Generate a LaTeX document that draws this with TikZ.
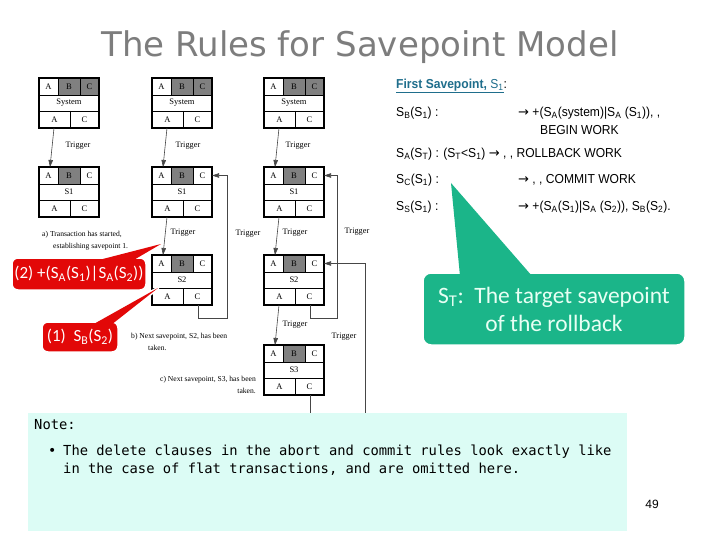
\documentclass[tikz,border=0pt]{standalone}
\usepackage{fontspec}
\setmainfont{Liberation Serif}
\newfontfamily\titlefont{DejaVu Sans}
\newfontfamily\rulefont[FakeStretch=0.93]{Liberation Sans}
\newfontfamily\arrowfont{DejaVu Sans}
\newfontfamily\callfont{Carlito}
\newfontfamily\notefont{DejaVu Sans Mono}
\newfontfamily\numfont{Liberation Sans}
\usetikzlibrary{arrows.meta}
\newcommand\rarr{{\arrowfont →}}

\definecolor{cellgray}{RGB}{128,128,128}
\definecolor{titlegray}{RGB}{125,125,125}
\definecolor{ruleblue}{RGB}{31,110,140}
\definecolor{callred}{RGB}{226,8,8}
\definecolor{callgreen}{RGB}{27,181,137}
\definecolor{greentext}{RGB}{232,255,244}
\definecolor{notebg}{RGB}{220,252,245}
\definecolor{conngray}{RGB}{70,70,70}

\tikzset{
  lbl/.style={font=\fontsize{8.5}{9}\selectfont, inner sep=0pt},
  trig/.style={font=\fontsize{8.3}{9}\selectfont, inner sep=0pt},
  captxt/.style={font=\fontsize{7.6}{9}\selectfont, inner sep=0pt},
  conn/.style={draw=conngray, line width=0.6pt, -{Triangle[length=7pt,width=4.5pt]}},
  rt/.style={font=\rulefont\fontsize{13}{15}\selectfont, inner sep=0pt, anchor=west},
  redbox/.style={fill=callred, draw=white, line width=1.5pt, rounded corners=6pt, inner sep=0pt,
    text=white, font=\callfont\fontsize{17}{20}\selectfont},
  greenbox/.style={fill=callgreen, draw=white, line width=1.5pt, rounded corners=8pt, inner sep=0pt,
    text=greentext, align=center, font=\callfont\fontsize{23.5}{28}\selectfont},
  notetxt/.style={font=\notefont\fontsize{13.8}{17}\selectfont, inner sep=0pt, anchor=west}
}

\newcommand\spbox[5]{%
  \begin{scope}[shift={(#2,#3)}]
    \fill[cellgray] (19,0) rectangle (41,17);
    \fill[#5] (41,0) rectangle (60,17);
    \draw[line width=0.8pt] (0,17)--(60,17) (0,33)--(60,33) (19,0)--(19,17) (41,0)--(41,17) (31,33)--(31,50);
    \node[lbl] (#1-A) at (9.5,8.5) {A};
    \node[lbl] (#1-B) at (30,8.5) {B};
    \node[lbl] (#1-C) at (50.5,8.5) {C};
    \node[lbl] (#1-n) at (30,25) {#4};
    \node[lbl] (#1-a) at (15.5,41.5) {A};
    \node[lbl] (#1-c) at (45.5,41.5) {C};
    \node[draw, line width=1.4pt, minimum width=60pt, minimum height=50pt, inner sep=0pt, outer sep=0pt, anchor=north west] (#1) at (0,0) {};
    \coordinate (#1-out) at (15,50);
    \coordinate (#1-in) at (11,0);
    \coordinate (#1-cb) at (46,50);
    \coordinate (#1-r) at (60,8.5);
  \end{scope}}

\begin{document}
\begin{tikzpicture}[x=1pt,y=-1pt]
\useasboundingbox (0,0) rectangle (720,540);
\fill[white] (0,0) rectangle (720,540);

% title
\node[font=\titlefont\fontsize{34}{40}\selectfont, text=titlegray, inner sep=0pt] (title) at (360,47) {The Rules for Savepoint Model};

% boxes column 1
\spbox{sysa}{39}{78}{System}{cellgray}
\spbox{sa1}{39}{167}{S1}{white}
% column 2
\spbox{sysb}{152}{78}{System}{cellgray}
\spbox{sb1}{152}{167}{S1}{white}
\spbox{sb2}{152}{255}{S2}{white}
% column 3
\spbox{sysc}{264}{78}{System}{cellgray}
\spbox{sc1}{264}{167}{S1}{white}
\spbox{sc2}{264}{255}{S2}{white}
\spbox{sc3}{264}{345}{S3}{white}

% connectors
\draw[conn] (sysa-out) -- (sa1-in);
\draw[conn] (sysb-out) -- (sb1-in);
\draw[conn] (sb1-out) -- (sb2-in);
\draw[conn] (sysc-out) -- (sc1-in);
\draw[conn] (sc1-out) -- (sc2-in);
\draw[conn] (sc2-out) -- (sc3-in);
\coordinate (lp2) at (227,318);
\coordinate (lp3) at (337,318);
\coordinate (lp4) at (365,425);
\draw[conn] (sb2-cb) |- (lp2) |- (sb1-r);
\draw[conn] (sc2-cb) |- (lp3) |- (sc1-r);
\draw[conn] (sc3-cb) |- (lp4) |- (sc2-r);

% trigger labels
\node[trig] (t1) at (78,146) {Trigger};
\node[trig] (t2) at (188,146) {Trigger};
\node[trig] (t3) at (183,233) {Trigger};
\node[trig] (t4) at (248,234) {Trigger};
\node[trig] (t5) at (298,146) {Trigger};
\node[trig] (t6) at (295,233) {Trigger};
\node[trig] (t7) at (357,232) {Trigger};
\node[trig] (t8) at (295,325) {Trigger};
\node[trig] (t9) at (344,337) {Trigger};

% captions
\node[captxt, anchor=west] (ca1) at (42,235) {a) Transaction has started,};
\node[captxt, anchor=west] (ca2) at (53,247) {establishing savepoint 1.};
\node[captxt, anchor=west] (cb1) at (131,337) {b) Next savepoint, S2, has been};
\node[captxt, anchor=west] (cb2) at (148,348) {taken.};
\node[captxt, anchor=east] (cc1) at (256,380) {c) Next savepoint, S3, has been};
\node[captxt, anchor=east] (cc2) at (256,391) {taken.};

% rules text
\node[rt] (hdr) at (396,86) {\color{ruleblue}\underline{\textbf{First Savepoint,} S\textsubscript{1}}\color{black}:};
\node[rt] (r1a) at (396,113) {S\textsubscript{B}(S\textsubscript{1}) :};
\node[rt] (r1b) at (518,113) {\rarr{} +(S\textsubscript{A}(system)|S\textsubscript{A} (S\textsubscript{1})), ,};
\node[rt] (r1c) at (540,130) {BEGIN WORK};
\node[rt] (r2) at (396,154) {S\textsubscript{A}(S\textsubscript{T}) : (S\textsubscript{T}<S\textsubscript{1}) \rarr{} , , ROLLBACK WORK};
\node[rt] (r3a) at (396,180) {S\textsubscript{C}(S\textsubscript{1}) :};
\node[rt] (r3b) at (518,180) {\rarr{} , , COMMIT WORK};
\node[rt] (r4a) at (396,207) {S\textsubscript{S}(S\textsubscript{1}) :};
\node[rt] (r4b) at (518,207) {\rarr{} +(S\textsubscript{A}(S\textsubscript{1})|S\textsubscript{A} (S\textsubscript{2})), S\textsubscript{B}(S\textsubscript{2}).};

% red callout (2)
\coordinate (tip2) at (161,244);
\draw[white, line width=3pt, line join=round] (95,262) -- (tip2) -- (132,262);
\node[redbox, minimum width=134pt, minimum height=32pt] (call2) at (79,274) {(2) +(S\textsubscript{A}(S\textsubscript{1})|S\textsubscript{A}(S\textsubscript{2}))};
\fill[callred] (95,261) -- (tip2) -- (132,261) -- cycle;
% red callout (1)
\coordinate (tip1) at (158,288);
\draw[white, line width=3pt, line join=round] (92,326) -- (tip1) -- (111,326);
\node[redbox, minimum width=76pt, minimum height=30pt] (call1) at (80,337) {(1)\ \ S\textsubscript{B}(S\textsubscript{2})};
\fill[callred] (92,325) -- (tip1) -- (111,325) -- cycle;

% green callout
\coordinate (sttip) at (451,183);
\draw[white, line width=3pt, line join=round] (460,277) -- (sttip) -- (532,277);
\node[greenbox, minimum width=262pt, minimum height=72pt] (call3) at (554,309) {S\textsubscript{T}:\ \ The target savepoint\\of the rollback};
\fill[callgreen] (460,276) -- (sttip) -- (532,276) -- cycle;

% note
\fill[notebg] (28,413) rectangle (627,531);
\node[notetxt] (note) at (34,425) {Note:};
\node[notetxt] (bul) at (48,452) {•};
\node[notetxt] (n1) at (63,452) {The delete clauses in the abort and commit rules look exactly like};
\node[notetxt] (n2) at (63,469) {in the case of flat transactions, and are omitted here.};

\node[font=\numfont\fontsize{12}{14}\selectfont, inner sep=0pt] (pg) at (652,504) {49};
\end{tikzpicture}
\end{document}
